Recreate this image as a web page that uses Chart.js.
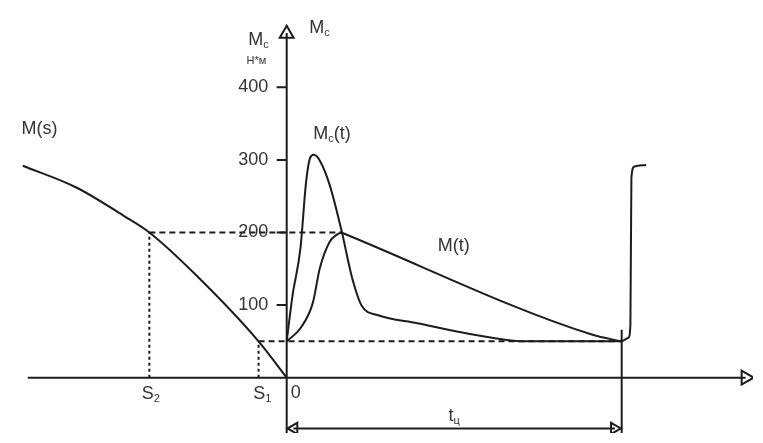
<!DOCTYPE html>
<html>
<head>
<meta charset="utf-8">
<script src="https://cdn.jsdelivr.net/npm/chart.js@4"></script>
<style>
    html, body { margin: 0; padding: 0; background: #fff; }
    #wrap { width: 763px; height: 443px; }
</style>
</head>
<body>
<div id="wrap"><canvas id="chart"></canvas></div>
<script>
    // values (x: time / slip units, y: torque, N*m)
    var tickValues = [100, 200, 300, 400];
    var tickLabels = ['100', '200', '300', '400'];

    var msX = [-7.88, -6.28, -4.83, -4.10, -2.70, -0.84, 0];
    var msY = [292, 262, 222, 200, 141, 50, 0];

    var mcX = [0, 0.17, 0.41, 0.58, 0.70, 0.81, 0.99, 1.28, 1.63, 1.95, 2.24, 2.73, 3.90, 5.15, 6.13, 7.09, 10];
    var mcY = [50, 112, 178, 270, 303, 307, 299, 266, 204, 138, 99, 86, 75, 63, 55, 50, 50];

    // rising part of M(t), then the straight fall to t_ц
    var mtRiseX = [0, 0.41, 0.78, 0.99, 1.28, 1.50, 1.63];
    var mtRiseY = [50, 68, 103, 151, 187, 197, 200];
    var mtFallX = [1.63, 9.13, 10];
    var mtFallY = [200, 59, 50];

    var tailX = [10, 10.20, 10.26, 10.29, 10.38, 10.73];
    var tailY = [50, 55, 72, 276, 291, 293];

    var s2 = -4.10, s1 = -0.84, tc = 10;
    var peakX = 1.63;
    var mStart = 50, mPeak = 200;

    function pts(xs, ys) {
        return xs.map(function (x, i) { return { x: x, y: ys[i] }; });
    }

    var ink = '#1c1c1c';

    function line(data, opts) {
        var d = {
            data: data,
            showLine: true,
            borderColor: ink,
            borderWidth: 2,
            pointRadius: 0,
            fill: false,
            tension: 0
        };
        for (var k in opts) d[k] = opts[k];
        return d;
    }

    var tickData = [];
    tickValues.forEach(function (v) {
        tickData.push({ x: -0.3, y: v }, { x: 0, y: v }, { x: 0, y: null });
    });

    var labelsPlugin = {
        id: 'labels',
        afterDatasetsDraw: function (chart) {
            var c = chart.ctx, xs = chart.scales.x, ys = chart.scales.y;
            function px(x) { return xs.getPixelForValue(x); }
            function py(y) { return ys.getPixelForValue(y); }
            function txt(main, sub, x, y, size) {
                c.save();
                c.fillStyle = '#333';
                c.textBaseline = 'alphabetic';
                c.textAlign = 'left';
                c.font = size + 'px "Liberation Sans", Arial, sans-serif';
                c.fillText(main[0], x, y);
                var w = c.measureText(main[0]).width;
                if (sub) {
                    c.font = Math.round(size * 0.6) + 'px "Liberation Sans", Arial, sans-serif';
                    c.fillText(sub, x + w, y + 3);
                    w += c.measureText(sub).width;
                }
                if (main[1]) {
                    c.font = size + 'px "Liberation Sans", Arial, sans-serif';
                    c.fillText(main[1], x + w, y);
                }
                c.restore();
            }
            // tick labels
            c.save();
            c.fillStyle = '#333';
            c.font = '18px "Liberation Sans", Arial, sans-serif';
            c.textAlign = 'right';
            c.textBaseline = 'middle';
            tickValues.forEach(function (v, i) {
                c.fillText(tickLabels[i], px(-0.55), py(v));
            });
            c.restore();

            txt(['M(s)'], null, px(-7.92), py(336), 18);
            txt(['M', ''], 'с', px(-1.15), py(458), 18);
            c.save();
            c.fillStyle = '#333';
            c.font = '11px "Liberation Sans", Arial, sans-serif';
            c.fillText('Н*м', px(-1.2), py(432));
            c.restore();
            txt(['M', ''], 'с', px(0.67), py(475), 18);
            txt(['M', '(t)'], 'с', px(0.79), py(329), 18);
            txt(['M(t)'], null, px(4.51), py(174), 18);
            txt(['S', ''], '2', px(-4.33), py(-30), 18);
            txt(['S', ''], '1', px(-1.0), py(-30), 18);
            txt(['0'], null, px(0.12), py(-28), 18);
            txt(['t', ''], 'ц', px(4.83), py(-60), 18);
        }
    };

    var ctx = document.getElementById('chart').getContext('2d');
    var chart = new Chart(ctx, {
        type: 'scatter',
        data: {
            datasets: [
                line([{ x: -7.73, y: 0 }, { x: 13.7, y: 0 }]),
                line([{ x: 0, y: -80 }, { x: 0, y: 475 }]),
                line(tickData, { spanGaps: false }),
                line(pts(msX, msY), { cubicInterpolationMode: 'monotone' }),
                line(pts(mcX, mcY), { cubicInterpolationMode: 'monotone' }),
                line(pts(mtRiseX, mtRiseY), { cubicInterpolationMode: 'monotone' }),
                line(pts(mtFallX, mtFallY), { cubicInterpolationMode: 'monotone' }),
                line(pts(tailX, tailY), { cubicInterpolationMode: 'monotone' }),
                line([{ x: s2, y: mPeak }, { x: peakX, y: mPeak }], { borderDash: [6, 4] }),
                line([{ x: s1, y: mStart }, { x: tc, y: mStart }], { borderDash: [6, 4] }),
                line([{ x: s2, y: 0 }, { x: s2, y: mPeak }], { borderDash: [3, 3] }),
                line([{ x: s1, y: 0 }, { x: s1, y: mStart }], { borderDash: [3, 3] }),
                line([{ x: tc, y: -80 }, { x: tc, y: 66 }]),
                line([{ x: 0.2, y: -70 }, { x: tc - 0.2, y: -70 }]),
                {
                    data: [
                        { x: 13.7, y: 0 },
                        { x: 0, y: 474 },
                        { x: 0.22, y: -70 },
                        { x: tc - 0.22, y: -70 }
                    ],
                    pointStyle: 'triangle',
                    pointRadius: [8, 8, 6.5, 6.5],
                    pointRotation: [90, 0, 270, 90],
                    backgroundColor: '#fff',
                    borderColor: ink,
                    borderWidth: 2
                }
            ]
        },
        options: {
            responsive: true,
            maintainAspectRatio: false,
            animation: false,
            layout: { padding: 0 },
            events: [],
            plugins: {
                legend: { display: false },
                tooltip: { enabled: false }
            },
            scales: {
                x: { type: 'linear', display: false, min: -8.26, max: 13.92 },
                y: { type: 'linear', display: false, min: -76.3, max: 506.6 }
            }
        },
        plugins: [labelsPlugin]
    });
</script>
</body>
</html>
